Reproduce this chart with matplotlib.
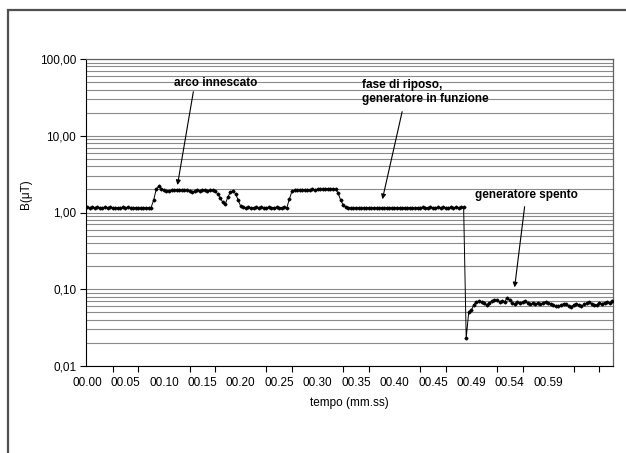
import matplotlib.pyplot as plt
from matplotlib.patches import Rectangle
from matplotlib.ticker import FixedLocator, NullFormatter
import numpy as np

plt.rcParams['font.family'] = ['Liberation Sans', 'DejaVu Sans']

# B (uT) samples
rest_1 = [1.17, 1.16, 1.17, 1.16, 1.17, 1.16, 1.16, 1.17, 1.16, 1.17, 1.16, 1.15, 1.16,
          1.16, 1.17, 1.16, 1.17, 1.16, 1.15, 1.16, 1.16, 1.15, 1.16, 1.15, 1.15, 1.16]
arc_1 = [1.45, 2.00, 2.20, 2.05, 1.95, 1.90, 1.92, 1.95, 1.98, 1.95, 1.97, 1.96, 1.98,
         1.95, 1.93, 1.85, 1.90, 1.95, 1.93, 1.95, 1.96, 1.92, 1.94, 1.95, 1.90, 1.75,
         1.55, 1.35, 1.30, 1.60, 1.85, 1.92, 1.75, 1.45, 1.20]
rest_2 = [1.17, 1.16, 1.17, 1.16, 1.16, 1.17, 1.16, 1.17, 1.16, 1.16, 1.17, 1.16, 1.16,
          1.17, 1.16, 1.16, 1.17, 1.16]
arc_2 = [1.50, 1.90, 1.95, 1.96, 1.95, 1.97, 1.98, 1.96, 1.98, 2.00, 1.99, 2.01, 2.00,
         2.02, 2.03, 2.05, 2.03, 2.04, 2.00, 1.80, 1.45, 1.25, 1.18]
rest_3 = [1.16, 1.16, 1.15, 1.16, 1.16, 1.15, 1.16, 1.16, 1.15, 1.15, 1.16, 1.15, 1.16,
          1.16, 1.15, 1.16, 1.15, 1.15, 1.16, 1.16, 1.15, 1.16, 1.16, 1.15, 1.16, 1.16,
          1.15, 1.16, 1.16, 1.17, 1.16, 1.16, 1.17, 1.16, 1.16, 1.17, 1.16, 1.17, 1.16,
          1.16, 1.17, 1.16, 1.17, 1.16, 1.17, 1.17]
switch_off = [0.023]
off = [0.051, 0.053, 0.063, 0.069, 0.070, 0.069, 0.066, 0.062, 0.066, 0.070, 0.072, 0.073,
       0.068, 0.071, 0.069, 0.077, 0.072, 0.066, 0.064, 0.069, 0.066, 0.068, 0.070, 0.066,
       0.064, 0.066, 0.065, 0.066, 0.064, 0.067, 0.069, 0.066, 0.065, 0.062, 0.060, 0.061,
       0.062, 0.065, 0.064, 0.061, 0.059, 0.063, 0.065, 0.062, 0.060, 0.064, 0.066, 0.068,
       0.065, 0.062, 0.063, 0.066, 0.065, 0.067, 0.069, 0.066, 0.070]

tick_labels = ["00.00", "00.05", "00.10", "00.15", "00.20", "00.25", "00.30", "00.35",
               "00.40", "00.45", "00.49", "00.54", "00.59"]

values = rest_1 + arc_1 + rest_2 + arc_2 + rest_3 + switch_off + off
x = np.arange(len(values))

fig = plt.figure(figsize=(6.26, 4.53), dpi=100)
ax = fig.add_axes([86/626, 1-366/453, 527/626, 307/453])

# outer chart frame (cropped on right and bottom)
fig.patches.append(Rectangle((8/626, -0.2), 1.2, 1.2 - 10/453, transform=fig.transFigure,
                             fill=False, edgecolor='#505050', lw=1.6, clip_on=False))

ax.set_yscale('log')
ax.set_ylim(0.01, 100)
ax.set_xlim(-0.4, len(values) - 0.7)

ax.grid(True, which='both', axis='y', color='#8a8a8a', lw=0.8)
ax.set_axisbelow(True)

ax.plot(x, values, color='black', lw=0.7, marker='D', ms=1.5, zorder=3)

ax.yaxis.set_major_locator(FixedLocator([0.01, 0.1, 1, 10, 100]))
ax.set_yticklabels(["0,01", "0,10", "1,00", "10,00", "100,00"])
ax.yaxis.set_minor_formatter(NullFormatter())
ax.tick_params(axis='y', which='major', length=4, width=0.8, pad=3, labelsize=8.5)
ax.tick_params(axis='y', which='minor', length=0)

ax.set_xticks(np.arange(0, 15 * len(tick_labels), 15))
ax.set_xticklabels(tick_labels)
ax.set_xticks(np.arange(0, len(values), 10), minor=True)
ax.tick_params(axis='x', which='major', length=0, pad=8, labelsize=8.5)
ax.tick_params(axis='x', which='minor', length=4, width=0.8)

for s in ['left', 'bottom']:
    ax.spines[s].set_color('black')
    ax.spines[s].set_linewidth(0.8)
for s in ['top', 'right']:
    ax.spines[s].set_color('#606060')
    ax.spines[s].set_linewidth(0.9)

ax.set_xlabel("tempo (mm.ss)", fontsize=8.5, labelpad=6)
ax.set_ylabel("B(μT)", fontsize=8.5)
ax.yaxis.set_label_coords(-0.103, 0.56)

arrow = dict(arrowstyle='-|>', color='black', lw=0.8, mutation_scale=7, shrinkA=0, shrinkB=0)
ax.text(50.2, 49, "arco innescato", ha='center', va='center', fontsize=8.5, fontweight='bold')
ax.annotate("", xy=(35.3, 2.28), xytext=(41.5, 37.5), arrowprops=arrow)
ax.text(107.3, 37.2, "fase di riposo,\ngeneratore in funzione", ha='left', va='center',
        fontsize=8.5, fontweight='bold', linespacing=1.2)
ax.annotate("", xy=(115.3, 1.49), xytext=(123, 20.6), arrowprops=arrow)
ax.text(171.4, 1.69, "generatore spento", ha='center', va='center', fontsize=8.5,
        fontweight='bold')
ax.annotate("", xy=(166.9, 0.106), xytext=(170.8, 1.19), arrowprops=arrow)

fig.savefig("out.png", dpi=100)
